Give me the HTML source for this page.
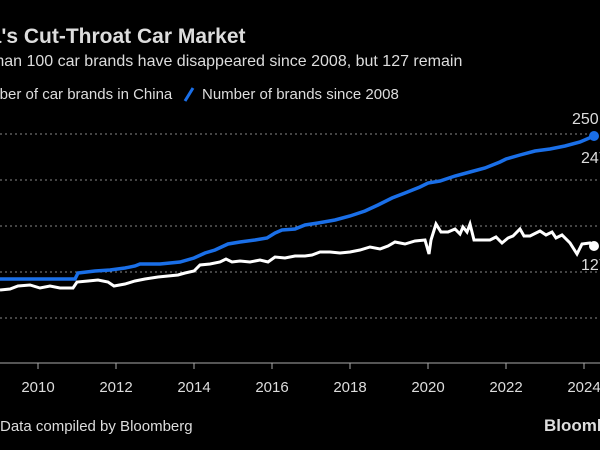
<!DOCTYPE html>
<html><head><meta charset="utf-8"><style>
html,body{margin:0;padding:0;background:#000;width:600px;height:450px;overflow:hidden}
svg{display:block}
text{font-family:"Liberation Sans",sans-serif;fill:#ddd}
</style></head><body>
<svg width="600" height="450" viewBox="0 0 600 450">
<rect width="600" height="450" fill="#000"/>
<text x="-57" y="43" font-size="21" font-weight="bold" fill="#fff">China's Cut-Throat Car Market</text>
<text x="-50" y="66" font-size="16" fill="#ccc">More than 100 car brands have disappeared since 2008, but 127 remain</text>
<text x="-32" y="99" font-size="15" fill="#ccc">Number of car brands in China</text>
<line x1="185" y1="101" x2="193" y2="88" stroke="#1a6fe8" stroke-width="3"/>
<text x="202" y="99" font-size="15" fill="#ccc">Number of brands since 2008</text>
<g stroke="#888" stroke-width="1" stroke-dasharray="2,3">
<line x1="0" y1="134" x2="600" y2="134"/><line x1="0" y1="180" x2="600" y2="180"/>
<line x1="0" y1="226" x2="600" y2="226"/><line x1="0" y1="272" x2="600" y2="272"/>
<line x1="0" y1="318" x2="600" y2="318"/></g>
<line x1="0" y1="363" x2="600" y2="363" stroke="#aaa"/>
<g stroke="#aaa"><line x1="38" y1="363" x2="38" y2="369"/><line x1="116" y1="363" x2="116" y2="369"/><line x1="194" y1="363" x2="194" y2="369"/><line x1="272" y1="363" x2="272" y2="369"/><line x1="350" y1="363" x2="350" y2="369"/><line x1="428" y1="363" x2="428" y2="369"/><line x1="506" y1="363" x2="506" y2="369"/><line x1="584" y1="363" x2="584" y2="369"/></g>
<g font-size="15" text-anchor="middle" fill="#ccc"><text x="38" y="392">2010</text><text x="116" y="392">2012</text><text x="194" y="392">2014</text><text x="272" y="392">2016</text><text x="350" y="392">2018</text><text x="428" y="392">2020</text><text x="506" y="392">2022</text><text x="584" y="392">2024</text></g>
<polyline fill="none" stroke="#1a6fe8" stroke-width="3.5" points="0,279 75,279 78,273 95,271 110,270 125,268 135,266 140,264 160,264 180,262 194,258 205,253 215,250 228,244 240,242 255,240 267,238 275,233 282,230 295,229 305,225 318,223 335,220 350,216 365,211 378,205 392,198 405,193 420,187 428,183 440,181 455,176 470,172 485,168 500,162 506,159 520,155 535,151 550,149 565,146 580,142 594,136"/>
<polyline fill="none" stroke="#fff" stroke-width="3" points="0,290 10,289 18,286 30,285 40,288 50,286 60,288 73,288 77,282 88,281 98,280 108,282 114,286 125,284 135,281 145,279 158,277 168,276 178,275 185,273 194,271 200,265 210,264 220,262 226,259 232,262 240,261 250,262 260,260 268,262 275,257 285,258 295,256 305,256 312,255 320,252 330,252 340,253 350,252 360,250 370,247 380,249 388,246 395,242 405,244 415,241 425,240 429,254 431,240 436,224 441,232 448,232 455,229 460,234 463,227 467,232 470,224 474,240 490,240 496,237 502,243 508,238 513,236 520,229 524,236 530,236 540,231 546,235 552,232 556,238 562,235 570,243 577,254 582,244 590,243 594,246"/>
<circle cx="594" cy="136" r="5" fill="#1a6fe8"/>
<circle cx="594" cy="246" r="5" fill="#fff"/>
<g font-size="16" fill="#ccc"><text x="572" y="124">250</text><text x="581" y="163">247</text><text x="581" y="270">127</text></g>
<text x="0" y="431" font-size="15" fill="#ccc">Data compiled by Bloomberg</text>
<text x="544" y="431" font-size="17" font-weight="bold" fill="#ddd">Bloomberg</text>
</svg>
</body></html>
